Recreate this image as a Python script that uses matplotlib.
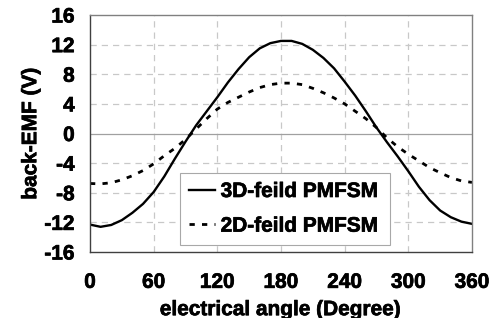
import numpy as np
import matplotlib.pyplot as plt
import matplotlib.patheffects as pe

plt.rcParams['font.family'] = ['Liberation Sans', 'DejaVu Sans']
plt.rcParams['font.weight'] = 'bold'
plt.rcParams['axes.unicode_minus'] = False

angle = list(range(0, 361, 10))
emf_3d = [-12.3, -12.6, -12.35, -11.7, -10.7, -9.5, -7.9, -5.8, -3.4, -1.1,
          1.1, 3.0, 4.9, 6.9, 8.7, 10.3, 11.5, 12.2, 12.5, 12.5,
          12.1, 11.3, 10.2, 8.8, 7.0, 5.1, 3.0, 0.8, -1.2, -3.1,
          -5.1, -7.2, -9.0, -10.4, -11.3, -11.9, -12.2]
emf_2d = [-6.75, -6.8, -6.65, -6.25, -5.7, -5.0, -4.1, -3.0, -2.0, -0.8,
          0.6, 2.0, 3.3, 4.2, 4.9, 5.6, 6.2, 6.6, 6.8, 6.8,
          6.6, 6.1, 5.5, 4.8, 4.0, 3.0, 2.0, 0.8, -0.6, -1.8,
          -2.8, -3.7, -4.6, -5.3, -5.95, -6.4, -6.6]
xticks = [0, 60, 120, 180, 240, 300, 360]
yticks = [-16, -12, -8, -4, 0, 4, 8, 12, 16]

heavy = [pe.withStroke(linewidth=0.5, foreground='black')]

fig = plt.figure(figsize=(5.04, 3.18), dpi=100)
ax = fig.add_axes([90/504, 1-252/318, 382/504, 237/318])

for x in xticks[1:-1]:
    ax.axvline(x, color='#c8c8c8', lw=0.9, ls=(0, (5, 4)), zorder=0)
for y in yticks[1:-1]:
    if y == 0:
        ax.axhline(0, color='#a0a0a0', lw=0.9, zorder=0)
    else:
        ax.axhline(y, color='#c8c8c8', lw=0.9, ls=(0, (5, 4)), zorder=0)

ax.plot(angle, emf_3d, color='black', lw=1.7, solid_joinstyle='round',
        label='3D-feild PMFSM')
ax.plot(angle, emf_2d, color='black', lw=2.0, ls=(0, (1.9, 2.6)),
        label='2D-feild PMFSM')

ax.set_xlim(0, 360)
ax.set_ylim(-16, 16)
ax.set_xticks(xticks)
ax.set_yticks(yticks)
ax.tick_params(length=0, labelsize=15)
ax.tick_params(axis='y', pad=11)
ax.tick_params(axis='x', pad=15)
for lab in ax.get_xticklabels() + ax.get_yticklabels():
    lab.set_fontweight('bold')
    lab.set_path_effects(heavy)
ax.set_xlabel('electrical angle (Degree)', fontsize=15, fontweight='bold', labelpad=6,
              path_effects=heavy)
ax.set_ylabel('back-EMF (V)', fontsize=15, fontweight='bold', labelpad=3,
              path_effects=heavy)

for s in ['top', 'right']:
    ax.spines[s].set_color('#808080')
for s in ['left', 'bottom']:
    ax.spines[s].set_color('#404040')
for s in ax.spines.values():
    s.set_linewidth(1.0)

leg = ax.legend(loc='lower left', bbox_to_anchor=(90/382, (252-245)/237, 210/382, 78/237),
                mode='expand', fancybox=False, framealpha=1, edgecolor='#a8a8a8',
                prop={'size': 15, 'weight': 'bold'}, handlelength=1.25, handletextpad=0.25,
                labelspacing=0.75, borderaxespad=0, borderpad=0.45)
leg.get_frame().set_linewidth(0.8)
for t in leg.get_texts():
    t.set_path_effects(heavy)

fig.savefig('out.png', dpi=100)
